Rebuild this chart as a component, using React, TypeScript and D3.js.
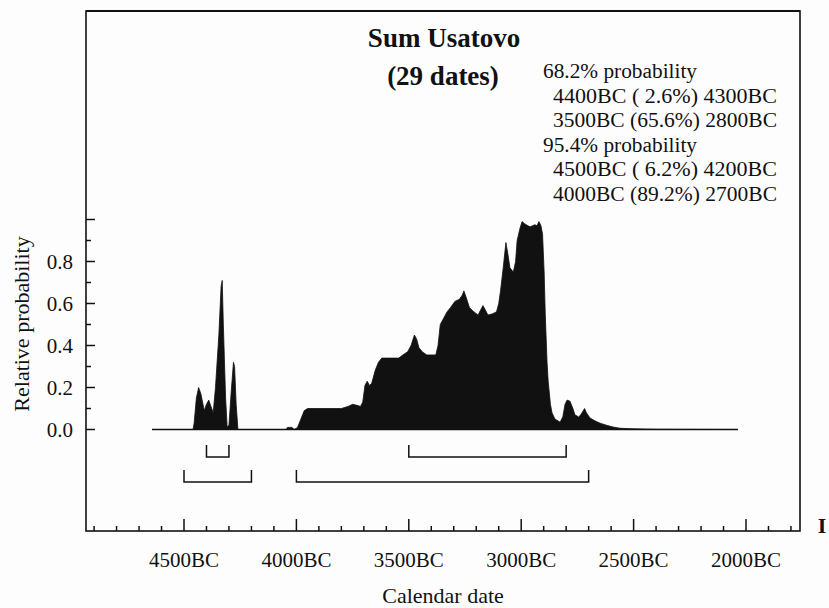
import React from "react";
import * as d3 from "d3";

// ---- data ----
const years: number[] = [
  -4642, -4460, -4455, -4445, -4435, -4425, -4410, -4400, -4390, -4380, -4370, -4360, -4345, -4335, -4330, -4325,
  -4315, -4308, -4300, -4290, -4280, -4275, -4268, -4260, -4045, -4040, -4020, -4010, -3995, -3980, -3965, -3950,
  -3900, -3850, -3800, -3770, -3750, -3730, -3715, -3705, -3695, -3685, -3675, -3665, -3650, -3635, -3620, -3580,
  -3545, -3520, -3505, -3490, -3475, -3465, -3455, -3440, -3420, -3380, -3370, -3360, -3345, -3330, -3315, -3295,
  -3275, -3262, -3255, -3245, -3230, -3210, -3192, -3180, -3170, -3160, -3148, -3130, -3110, -3100, -3092, -3080,
  -3068, -3060, -3050, -3035, -3025, -3018, -3005, -2996, -2985, -2970, -2960, -2950, -2939, -2930, -2921, -2912,
  -2905, -2898, -2893, -2885, -2880, -2870, -2863, -2850, -2827, -2815, -2805, -2796, -2783, -2770, -2761, -2745,
  -2735, -2718, -2710, -2694, -2670, -2649, -2620, -2592, -2560, -2500, -2400, -2036,
];
const probs: number[] = [
  0, 0, 0.03, 0.15, 0.2, 0.17, 0.09, 0.12, 0.14, 0.11, 0.08, 0.2, 0.45, 0.68, 0.71, 0.5,
  0.15, 0.012, 0.02, 0.18, 0.32, 0.3, 0.12, 0, 0, 0.01, 0.01, 0, 0.01, 0.05, 0.09, 0.1,
  0.1, 0.1, 0.1, 0.11, 0.12, 0.115, 0.11, 0.13, 0.21, 0.23, 0.21, 0.22, 0.28, 0.32, 0.34, 0.34,
  0.34, 0.36, 0.37, 0.4, 0.45, 0.43, 0.39, 0.37, 0.355, 0.355, 0.4, 0.5, 0.53, 0.56, 0.58, 0.61,
  0.62, 0.64, 0.66, 0.63, 0.58, 0.56, 0.545, 0.57, 0.59, 0.57, 0.545, 0.55, 0.56, 0.6, 0.66, 0.77,
  0.89, 0.84, 0.77, 0.75, 0.8, 0.9, 0.96, 0.99, 0.98, 0.97, 0.965, 0.97, 0.975, 0.97, 0.99, 0.97,
  0.93, 0.75, 0.55, 0.32, 0.23, 0.12, 0.08, 0.05, 0.035, 0.06, 0.12, 0.14, 0.135, 0.1, 0.07, 0.06,
  0.07, 0.1, 0.08, 0.055, 0.04, 0.03, 0.02, 0.012, 0.006, 0.003, 0.001, 0,
];

const ranges68: [number, number][] = [
  [-4400, -4300],
  [-3500, -2800],
];
const ranges95: [number, number][] = [
  [-4500, -4200],
  [-4000, -2700],
];

const titleLines = ["Sum Usatovo", "(29 dates)"];
const legendLines = [
  "68.2% probability",
  "4400BC ( 2.6%) 4300BC",
  "3500BC (65.6%) 2800BC",
  "95.4% probability",
  "4500BC ( 6.2%) 4200BC",
  "4000BC (89.2%) 2700BC",
];
const xMajorTicks = [-4500, -4000, -3500, -3000, -2500, -2000];
const yMajorTicks = [0, 0.2, 0.4, 0.6, 0.8, 1.0];
const yLabelTicks = [0, 0.2, 0.4, 0.6, 0.8];
const xLabel = "Calendar date";
const yLabel = "Relative probability";

const FONT = "'Liberation Serif', 'Times New Roman', serif";

export default function App() {
  const W = 829;
  const H = 608;
  const frame = { left: 86, top: 11, right: 800, bottom: 531 };

  const x = d3.scaleLinear().domain([-4500, -2000]).range([184, 746]);
  const y = d3.scaleLinear().domain([0, 1]).range([429.5, 219.5]);

  const xMin = x.invert(frame.left);
  const xMax = x.invert(frame.right);
  const xMinorTicks = d3.range(Math.ceil(xMin / 100) * 100, xMax, 100).filter((t) => t % 500 !== 0);
  const yMinorTicks = [0.1, 0.3, 0.5, 0.7, 0.9];

  const pts = years.map((yr, i) => [yr, probs[i]] as [number, number]);
  const area = d3
    .area<[number, number]>()
    .x((d) => x(d[0]))
    .y0(y(0))
    .y1((d) => y(d[1]))
    .curve(d3.curveLinear);

  const bracket = (r: [number, number], top: number, bottom: number) =>
    `M${x(r[0])},${top}V${bottom}H${x(r[1])}V${top}`;

  const ink = "#111";
  const legendX1 = 543;
  const legendX2 = 553;
  const legendBase = 78;
  const legendStep = 24.5;

  return (
    <svg
      width={W}
      height={H}
      viewBox={`0 0 ${W} ${H}`}
      style={{ position: "absolute", left: 0, top: 0, display: "block", background: "#fdfdfd" }}
      fontFamily={FONT}
    >
      <rect x={0} y={0} width={W} height={H} fill="#fdfdfd" />
      {/* frame */}
      <rect
        x={frame.left}
        y={frame.top}
        width={frame.right - frame.left}
        height={frame.bottom - frame.top}
        fill="none"
        stroke={ink}
        strokeWidth={1.6}
      />
      <line x1={frame.left} x2={frame.right} y1={frame.top} y2={frame.top} stroke={ink} strokeWidth={2.2} />

      {/* title */}
      <text x={444} y={47} textAnchor="middle" fontWeight="bold" fontSize={27} fill={ink}>
        {titleLines[0]}
      </text>
      <text x={443} y={85} textAnchor="middle" fontWeight="bold" fontSize={27} fill={ink}>
        {titleLines[1]}
      </text>

      {/* legend */}
      {legendLines.map((t, i) => {
        const isHead = i === 0 || i === 3;
        return (
          <text
            key={i}
            x={isHead ? legendX1 : legendX2}
            y={legendBase + i * legendStep}
            fontSize={20}
            fill={ink}
            textLength={isHead ? 154 : 224}
            lengthAdjust="spacingAndGlyphs"
          >
            {t}
          </text>
        );
      })}

      {/* distribution */}
      <line x1={x(years[0])} x2={x(years[years.length - 1])} y1={y(0)} y2={y(0)} stroke={ink} strokeWidth={1.5} />
      <path d={area(pts) || ""} fill={ink} stroke={ink} strokeWidth={0.8} strokeLinejoin="round" />

      {/* ranges */}
      {ranges68.map((r, i) => (
        <path key={`a${i}`} d={bracket(r, 445, 457)} fill="none" stroke={ink} strokeWidth={1.5} />
      ))}
      {ranges95.map((r, i) => (
        <path key={`b${i}`} d={bracket(r, 470, 482)} fill="none" stroke={ink} strokeWidth={1.5} />
      ))}

      {/* y axis ticks */}
      {yMajorTicks.map((t) => (
        <line key={`ym${t}`} x1={frame.left} x2={frame.left + 9} y1={y(t)} y2={y(t)} stroke={ink} strokeWidth={1.5} />
      ))}
      {yMinorTicks.map((t) => (
        <line key={`yn${t}`} x1={frame.left} x2={frame.left + 5} y1={y(t)} y2={y(t)} stroke={ink} strokeWidth={1.5} />
      ))}
      {yLabelTicks.map((t) => (
        <text key={`yl${t}`} x={73} y={y(t) + 7} textAnchor="end" fontSize={21} fill={ink}>
          {d3.format(".1f")(t)}
        </text>
      ))}
      <text
        transform={`translate(29,${324}) rotate(-90)`}
        textAnchor="middle"
        fontSize={22}
        fill={ink}
      >
        {yLabel}
      </text>

      {/* x axis ticks */}
      {xMajorTicks.map((t) => (
        <line key={`xm${t}`} x1={x(t)} x2={x(t)} y1={frame.bottom} y2={frame.bottom - 12} stroke={ink} strokeWidth={1.5} />
      ))}
      {xMinorTicks.map((t) => (
        <line key={`xn${t}`} x1={x(t)} x2={x(t)} y1={frame.bottom} y2={frame.bottom - 5} stroke={ink} strokeWidth={1.5} />
      ))}
      {xMajorTicks.map((t) => (
        <text key={`xl${t}`} x={x(t)} y={567} textAnchor="middle" fontSize={21} fill={ink}>
          {`${-t}BC`}
        </text>
      ))}
      <text x={443} y={603} textAnchor="middle" fontSize={22} fill={ink}>
        {xLabel}
      </text>

      {/* scan margin mark */}
      <text x={822} y={533} textAnchor="middle" fontWeight="bold" fontSize={22} fill={ink}>
        I
      </text>
    </svg>
  );
}
